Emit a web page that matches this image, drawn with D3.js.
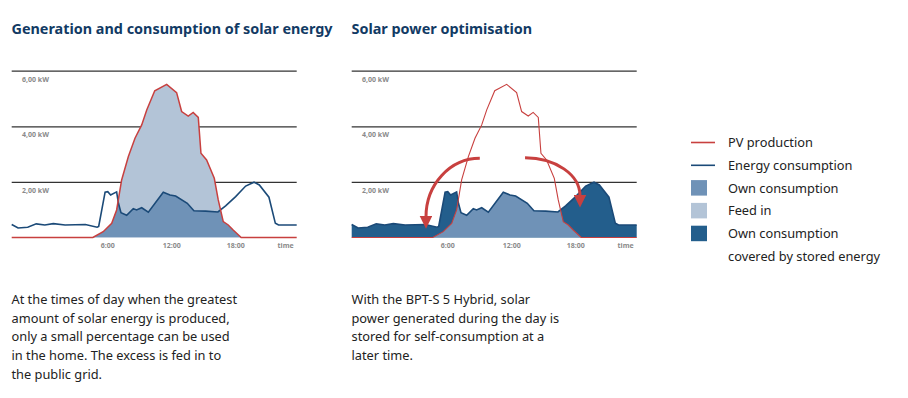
<!DOCTYPE html>
<html>
<head>
<meta charset="utf-8">
<script src="https://cdn.jsdelivr.net/npm/d3@7"></script>
<style>
  body { margin: 0; background: #fff; }
  svg text { font-family: "Noto Sans", sans-serif; }
</style>
</head>
<body>
<div id="chart"></div>
<script>
// data: hours of the day (-3 = 21:00 the evening before) and kW
const consHours = [-3, -2.4, -1.5, -0.7, 0.1, 0.9, 2.0, 3.9, 5.0, 5.15, 5.75, 6.0, 6.27, 6.83, 7.0, 7.24, 7.77, 8.39, 8.7, 9.18, 9.8, 11.2, 11.83, 12.36, 13.45, 14.07, 15.17, 16.32, 17.04, 17.98, 18.92, 19.7, 20.2, 21.1, 21.7, 22.0, 23.7];
const consKW    = [0.47, 0.34, 0.37, 0.49, 0.45, 0.50, 0.45, 0.47, 0.37, 0.40, 1.63, 1.65, 1.53, 1.64, 1.23, 0.89, 0.80, 1.04, 0.99, 1.07, 0.91, 1.63, 1.53, 1.49, 1.23, 0.96, 0.95, 0.92, 1.14, 1.47, 1.85, 1.99, 1.89, 1.45, 0.51, 0.45, 0.45];

const pvHours = [-3, 4.6, 5.57, 6.37, 6.83, 7.3, 7.93, 8.55, 9.18, 9.65, 10.4, 11.52, 12.45, 12.92, 13.54, 14.0, 14.48, 14.73, 15.26, 15.98, 16.35, 16.82, 17.29, 17.75, 18.5, 23.7];
const pvKW    = [0, 0, 0.21, 0.51, 0.99, 2.07, 2.91, 3.57, 4.05, 4.59, 5.28, 5.51, 5.21, 4.53, 4.37, 4.50, 4.32, 3.03, 2.79, 2.13, 1.35, 0.57, 0.45, 0.27, 0, 0];

const gridValues = [2, 4, 6];
const gridLabels = ["2,00 kW", "4,00 kW", "6,00 kW"];
const tickHours = [6, 12, 18];
const tickLabels = ["6:00", "12:00", "18:00"];

// arrows of the second chart: start and end in hours / kW
const arrows = [
  { from: [9.0, 2.85], to: [3.96, 0.74] },
  { from: [13.24, 2.87], to: [18.39, 1.5] }
];

const titles = ["Generation and consumption of solar energy", "Solar power optimisation"];
const notes = [
  ["At the times of day when the greatest", "amount of solar energy is produced,", "only a small percentage can be used", "in the home. The excess is fed in to", "the public grid."],
  ["With the BPT-S 5 Hybrid, solar", "power generated during the day is", "stored for self-consumption at a", "later time."]
];

const legendItems = [
  { label: "PV production", type: "line", color: "#c8403f" },
  { label: "Energy consumption", type: "line", color: "#1b4a78" },
  { label: "Own consumption", type: "rect", color: "#6f92b7" },
  { label: "Feed in", type: "rect", color: "#b3c4d7" },
  { label: "Own consumption", type: "rect", color: "#235e8c" },
  { label: "covered by stored energy", type: "none" }
];

const colors = {
  pv: "#c8403f", cons: "#1b4a78", own: "#6f92b7", feed: "#b3c4d7", stored: "#235e8c",
  grid: "#333", axisText: "#8a8a8a", title: "#123a64", text: "#222"
};

const W = 908, H = 398;
const svg = d3.select("#chart").append("svg")
  .attr("width", W).attr("height", H);

const defs = svg.append("defs");
defs.append("marker")
  .attr("id", "head")
  .attr("viewBox", "0 0 10 10")
  .attr("refX", 1).attr("refY", 5)
  .attr("markerUnits", "userSpaceOnUse")
  .attr("markerWidth", 13).attr("markerHeight", 13)
  .attr("orient", "auto")
  .append("path")
  .attr("d", "M0,0L10,5L0,10Z")
  .attr("fill", colors.pv);

const cons = consHours.map((h, i) => ({ h, v: consKW[i] }));
const pv = pvHours.map((h, i) => ({ h, v: pvKW[i] }));

const panelX = [0, 340];

panelX.forEach((ox, p) => {
  const g = svg.append("g").attr("transform", `translate(${ox},0)`);

  const x = d3.scaleLinear().domain([-3, 23.7]).range([11.7, 296.7]);
  const y = d3.scaleLinear().domain([0, 6]).range([237.5, 70.7]);

  g.append("text")
    .attr("x", 11.5).attr("y", 33.5)
    .attr("font-size", 14.4).attr("font-weight", 700)
    .attr("fill", colors.title)
    .text(titles[p]);

  // horizontal grid
  const yAxis = d3.axisLeft(y).tickValues(gridValues).tickSize(-(x.range()[1] - x.range()[0])).tickFormat("");
  const ga = g.append("g").attr("transform", `translate(${x.range()[0]},0)`).call(yAxis);
  ga.select(".domain").remove();
  ga.selectAll("line").attr("stroke", colors.grid).attr("stroke-width", 1.2);

  g.selectAll(".glabel").data(gridValues).join("text")
    .attr("class", "glabel")
    .attr("x", 22).attr("y", d => y(d) + 11)
    .attr("font-size", 7).attr("font-weight", 700)
    .attr("fill", colors.axisText)
    .text((d, i) => gridLabels[i]);

  const area = d3.area().x(d => x(d.h)).y0(y(0)).y1(d => y(d.v));
  const line = d3.line().x(d => x(d.h)).y(d => y(d.v));

  const clipId = "pvclip" + p;
  defs.append("clipPath").attr("id", clipId)
    .append("path").attr("transform", `translate(${ox},0)`).attr("d", area(pv));

  if (p === 0) {
    g.append("path").attr("d", area(pv)).attr("fill", colors.feed);
  } else {
    g.append("path").attr("d", area(cons)).attr("fill", colors.stored);
  }
  g.append("g").attr("clip-path", `url(#${clipId})`)
    .attr("transform", `translate(${-ox},0)`)
    .append("path").attr("transform", `translate(${ox},0)`)
    .attr("d", area(cons)).attr("fill", colors.own);

  g.append("path").attr("d", line(cons))
    .attr("fill", "none").attr("stroke", colors.cons).attr("stroke-width", 1.6);
  g.append("path").attr("d", line(pv))
    .attr("fill", "none").attr("stroke", colors.pv).attr("stroke-width", p === 0 ? 1.5 : 1.1);

  // time axis
  g.selectAll(".tick-label").data(tickHours).join("text")
    .attr("class", "tick-label")
    .attr("x", d => x(d)).attr("y", 248)
    .attr("text-anchor", "middle")
    .attr("font-size", 7).attr("font-weight", 700)
    .attr("fill", colors.axisText)
    .text((d, i) => tickLabels[i]);
  g.append("text")
    .attr("x", x.range()[1] - 3).attr("y", 248)
    .attr("text-anchor", "end")
    .attr("font-size", 7).attr("font-weight", 700)
    .attr("fill", colors.axisText)
    .text("time");

  if (p === 1) {
    arrows.forEach(a => {
      const x0 = x(a.from[0]), y0 = y(a.from[1]);
      const x1 = x(a.to[0]), y1 = y(a.to[1]);
      const rx = Math.abs(x1 - x0), ry = Math.abs(y1 - y0);
      const sweep = x1 < x0 ? 0 : 1;
      g.append("path")
        .attr("d", `M${x0},${y0}A${rx},${ry} 0 0 ${sweep} ${x1},${y1}`)
        .attr("fill", "none").attr("stroke", colors.pv).attr("stroke-width", 3)
        .attr("marker-end", "url(#head)");
    });
  }

  // description
  g.selectAll(".note").data(notes[p]).join("text")
    .attr("class", "note")
    .attr("x", 11.5).attr("y", (d, i) => 304 + i * 18.7)
    .attr("font-size", 12.8)
    .attr("fill", colors.text)
    .text(d => d);
});

// legend
const lg = svg.append("g").attr("transform", "translate(691,142.5)");
const rows = lg.selectAll("g").data(legendItems).join("g")
  .attr("transform", (d, i) => `translate(0,${i * 22.8})`);
rows.filter(d => d.type === "line").append("line")
  .attr("x1", 0).attr("x2", 24).attr("y1", 0).attr("y2", 0)
  .attr("stroke", d => d.color).attr("stroke-width", 1.6);
rows.filter(d => d.type === "rect").append("rect")
  .attr("x", 0).attr("y", -8).attr("width", 16).attr("height", 15.5)
  .attr("fill", d => d.color);
rows.append("text")
  .attr("x", 37).attr("y", 4.5)
  .attr("font-size", 12.8)
  .attr("fill", colors.text)
  .text(d => d.label);
</script>
</body>
</html>
